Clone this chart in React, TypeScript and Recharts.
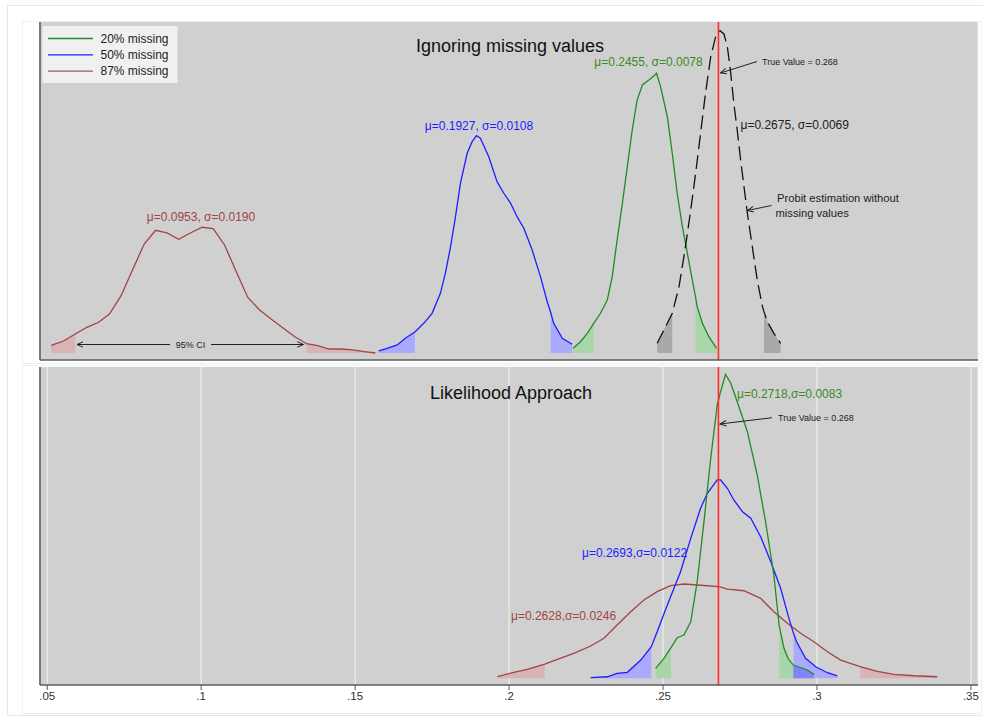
import React from 'react';
import { ComposedChart, Line, Area, XAxis, YAxis, CartesianGrid, ReferenceLine } from 'recharts';

type Pt = [number, number];
type Range = [number, number];

const xTicks = [0.05, 0.1, 0.15, 0.2, 0.25, 0.3, 0.35];
const xTickLabels = ['.05', '.1', '.15', '.2', '.25', '.3', '.35'];
const xDomain: Range = [0.04766, 0.3523];
const trueValue = 0.268;

// Ignoring missing values (kernel densities)
const topRed: Pt[] = [
  [0.0513, 1.38], [0.0553, 2.14], [0.0591, 3.39], [0.0629, 4.59], [0.0667, 5.48], [0.0702, 6.96],
  [0.074, 10.23], [0.0777, 14.82], [0.0815, 19.46], [0.0852, 21.91], [0.0889, 21.43], [0.0927, 20.3],
  [0.0965, 21.43], [0.1003, 22.45], [0.1039, 22.2], [0.1076, 19.29], [0.1114, 14.52], [0.1152, 9.88],
  [0.119, 7.68], [0.1228, 6.02], [0.1266, 4.46], [0.1304, 2.91], [0.1342, 1.66], [0.1378, 1.3],
  [0.1416, 0.71], [0.1454, 0.71], [0.1492, 0.54], [0.153, 0.23], [0.1566, 0.0],
];
const topBlue: Pt[] = [
  [0.1577, 0.36], [0.1604, 0.84], [0.1637, 1.43], [0.1663, 2.63], [0.1694, 3.75], [0.1723, 5.3],
  [0.175, 7.09], [0.1777, 10.66], [0.1793, 14.23], [0.181, 18.98], [0.1826, 24.34], [0.1842, 30.3],
  [0.1864, 35.66], [0.188, 37.73], [0.1894, 38.8], [0.1907, 38.34], [0.1934, 35.05], [0.1961, 30.59],
  [0.1983, 28.52], [0.2005, 26.73], [0.2026, 24.34], [0.2048, 22.27], [0.2075, 18.39], [0.2102, 13.63],
  [0.2124, 9.16], [0.2135, 7.27], [0.2145, 5.3], [0.2173, 2.63], [0.2205, 1.55],
];
const topGreen: Pt[] = [
  [0.2208, 0.84], [0.2232, 2.02], [0.2254, 3.52], [0.2275, 5.3], [0.2297, 7.09], [0.2319, 9.46],
  [0.2335, 13.63], [0.2351, 20.18], [0.2368, 26.73], [0.2384, 33.27], [0.24, 39.82], [0.2416, 45.18],
  [0.2433, 47.86], [0.2454, 48.75], [0.247, 49.46], [0.2479, 49.95], [0.2492, 47.55], [0.2514, 42.2],
  [0.253, 35.66], [0.2546, 28.52], [0.2563, 22.55], [0.2579, 17.8], [0.2595, 13.04], [0.2606, 9.88],
  [0.2611, 8.27], [0.2628, 5.3], [0.2649, 2.91], [0.2674, 0.84],
];
const topBlack: Pt[] = [
  [0.2481, 1.73], [0.2503, 4.11], [0.253, 7.09], [0.2552, 11.84], [0.2573, 18.98], [0.259, 25.54],
  [0.2606, 32.09], [0.2622, 39.23], [0.2638, 46.38], [0.2655, 52.91], [0.2671, 56.48], [0.2685, 57.55],
  [0.2698, 56.96], [0.2709, 54.7], [0.272, 49.95], [0.273, 44.59], [0.2741, 39.82], [0.2752, 34.46],
  [0.2763, 29.7], [0.2774, 24.95], [0.279, 18.98], [0.2806, 13.04], [0.2823, 8.27], [0.2828, 7.38],
  [0.2839, 5.59], [0.286, 3.52], [0.2882, 1.73],
];

// Likelihood approach
const botRed: Pt[] = [
  [0.1962, 0.25], [0.2015, 0.95], [0.2059, 1.43], [0.2116, 2.27], [0.2157, 3.02], [0.221, 3.97],
  [0.2265, 5.13], [0.2308, 6.35], [0.2351, 8.46], [0.2395, 10.57], [0.2438, 12.43], [0.2481, 13.75],
  [0.2525, 14.7], [0.2568, 14.97], [0.2611, 14.81], [0.2682, 14.54], [0.2709, 14.17], [0.2763, 13.9],
  [0.2817, 12.7], [0.286, 10.57], [0.2904, 8.73], [0.2947, 7.14], [0.299, 5.81], [0.3034, 4.22],
  [0.3077, 2.9], [0.314, 1.84], [0.3196, 1.11], [0.325, 0.63], [0.3315, 0.41], [0.3391, 0.25],
];
const botBlue: Pt[] = [
  [0.2265, 0.1], [0.2319, 0.25], [0.2351, 0.79], [0.2384, 0.95], [0.2427, 2.86], [0.2462, 5.02],
  [0.2481, 7.4], [0.2514, 11.63], [0.2557, 16.92], [0.259, 22.22], [0.2622, 26.98], [0.2644, 29.37],
  [0.2676, 31.48], [0.2687, 31.48], [0.2709, 30.16], [0.273, 28.3], [0.2758, 26.44], [0.2785, 25.4],
  [0.2817, 22.48], [0.285, 18.51], [0.2882, 14.29], [0.2909, 9.52], [0.2924, 7.1], [0.2934, 5.81],
  [0.2963, 3.17], [0.2996, 1.84], [0.3034, 0.89], [0.3066, 0.37],
];
const botGreen: Pt[] = [
  [0.2476, 1.59], [0.2503, 3.17], [0.2526, 4.86], [0.2546, 6.44], [0.2568, 6.87], [0.259, 8.98],
  [0.2611, 15.33], [0.2633, 24.86], [0.2655, 34.92], [0.2676, 43.38], [0.2687, 45.49], [0.2703, 48.25],
  [0.272, 46.83], [0.2741, 43.9], [0.2774, 39.14], [0.2806, 32.27], [0.2833, 24.86], [0.286, 16.4],
  [0.2877, 8.46], [0.2893, 4.76], [0.2906, 3.17], [0.2923, 2.11], [0.2947, 1.68], [0.2969, 1.32],
  [0.299, 0.63],
];

// 95% interval tails (shaded)
const topRedTails: Range[] = [[0.0513, 0.0591], [0.1342, 0.1566]];
const topBlueTails: Range[] = [[0.1577, 0.1694], [0.2135, 0.2205]];
const topGreenTails: Range[] = [[0.2208, 0.2275], [0.2606, 0.2674]];
const topBlackTails: Range[] = [[0.2481, 0.253], [0.2828, 0.2882]];
const botRedTails: Range[] = [[0.1962, 0.2116], [0.314, 0.3391]];
const botBlueTails: Range[] = [[0.2265, 0.2462], [0.2924, 0.3066]];
const botGreenTails: Range[] = [[0.2476, 0.2526], [0.2877, 0.2923], [0.2923, 0.299]];

const FONT = '"Liberation Sans", Arial, Helvetica, sans-serif';
const RED = '#a04444';
const BLUE = '#1e1eff';
const GREEN = '#228b22';
const SHADE_RED = '#d8b4b6';
const SHADE_BLUE = '#aaaaff';
const SHADE_GREEN = '#a8d6a8';
const SHADE_GRAY = '#a9a9a9';
const SHADE_DARKBLUE = '#8282fb';

interface Series {
  key: string;
  pts: Pt[];
  tails: Range[];
  color: string;
  tailColors: string[];
  dash?: string;
}

const buildRows = (series: Series[]) => {
  const rows: Record<string, number>[] = [];
  series.forEach((s) => {
    s.pts.forEach(([x, y]) => {
      const row: Record<string, number> = { x, [s.key]: y };
      s.tails.forEach(([lo, hi], i) => {
        if (x >= lo - 1e-9 && x <= hi + 1e-9) row[`${s.key}_t${i}`] = y;
      });
      rows.push(row);
    });
  });
  return rows;
};

const topSeries: Series[] = [
  { key: 'red', pts: topRed, tails: topRedTails, color: RED, tailColors: [SHADE_RED, SHADE_RED] },
  { key: 'blue', pts: topBlue, tails: topBlueTails, color: BLUE, tailColors: [SHADE_BLUE, SHADE_BLUE] },
  { key: 'green', pts: topGreen, tails: topGreenTails, color: GREEN, tailColors: [SHADE_GREEN, SHADE_GREEN] },
  { key: 'black', pts: topBlack, tails: topBlackTails, color: '#111', tailColors: [SHADE_GRAY, SHADE_GRAY], dash: '14 6' },
];
const botSeries: Series[] = [
  { key: 'red', pts: botRed, tails: botRedTails, color: RED, tailColors: [SHADE_RED, SHADE_RED] },
  { key: 'blue', pts: botBlue, tails: botBlueTails, color: BLUE, tailColors: [SHADE_BLUE, SHADE_BLUE] },
  { key: 'green', pts: botGreen, tails: botGreenTails, color: GREEN, tailColors: [SHADE_GREEN, SHADE_GREEN, SHADE_DARKBLUE] },
];

const Panel: React.FC<{
  series: Series[];
  height: number;
  yDomain: Range;
  margin: { top: number; right: number; bottom: number; left: number };
  showTicks: boolean;
}> = ({ series, height, yDomain, margin, showTicks }) => {
  const rows = buildRows(series);
  return (
    <ComposedChart width={983} height={height} data={rows} margin={margin}>
      <CartesianGrid horizontal={false} fill="#d0d0d0" stroke="#e8eded" strokeWidth={1.3} />
      <XAxis
        type="number"
        dataKey="x"
        domain={xDomain}
        allowDataOverflow
        ticks={xTicks}
        height={showTicks ? 30 : 1}
        tick={showTicks ? { fontSize: 11.5, fill: '#333', fontFamily: FONT } : false}
        tickLine={showTicks ? { stroke: '#555' } : false}
        tickSize={5}
        tickFormatter={(v: number) => xTickLabels[xTicks.indexOf(v)] ?? ''}
        axisLine={{ stroke: '#5c5c5c', strokeWidth: 1.6 }}
      />
      <YAxis
        type="number"
        domain={yDomain}
        allowDataOverflow
        width={2}
        tick={false}
        tickLine={false}
        axisLine={{ stroke: '#5c5c5c', strokeWidth: 1.6 }}
      />
      {series.flatMap((s) =>
        s.tails.map((_, i) => (
          <Area
            key={`${s.key}_t${i}`}
            dataKey={`${s.key}_t${i}`}
            type="linear"
            stroke="none"
            fill={s.tailColors[i]}
            fillOpacity={1}
            baseValue={0}
            connectNulls
            dot={false}
            activeDot={false}
            isAnimationActive={false}
          />
        ))
      )}
      {series.map((s) => (
        <Line
          key={s.key}
          dataKey={s.key}
          type="linear"
          stroke={s.color}
          strokeWidth={1.3}
          strokeDasharray={s.dash}
          connectNulls
          dot={false}
          activeDot={false}
          isAnimationActive={false}
        />
      ))}
      <ReferenceLine x={trueValue} stroke="#ff2b2b" strokeWidth={1.6} />
    </ComposedChart>
  );
};

const legendItems = [
  { label: '20% missing', color: GREEN },
  { label: '50% missing', color: BLUE },
  { label: '87% missing', color: '#a65a5a' },
];

const Overlay: React.FC = () => (
  <svg width={983} height={723} style={{ position: 'absolute', left: 0, top: 0, pointerEvents: 'none' }}>
    <defs>
      <marker id="ah" viewBox="0 0 10 10" refX="9" refY="5" markerWidth="7" markerHeight="7" orient="auto-start-reverse">
        <path d="M0,1 L9,5 L0,9" fill="none" stroke="#222" strokeWidth={1.4} />
      </marker>
    </defs>
    <g fontFamily={FONT} dominantBaseline="central">
      {/* legend */}
      <rect x={42.5} y={26} width={135} height={57} fill="#f0f0f0" />
      {legendItems.map((it, i) => (
        <g key={it.label}>
          <line x1={48} x2={93} y1={38.5 + i * 16.3} y2={38.5 + i * 16.3} stroke={it.color} strokeWidth={1.3} />
          <text x={100.5} y={38.5 + i * 16.3} fontSize={12} fill="#222">{it.label}</text>
        </g>
      ))}

      {/* top panel */}
      <text x={510} y={45.5} fontSize={18} textAnchor="middle" fill="#111">Ignoring missing values</text>
      <text x={201} y={216.5} fontSize={12} textAnchor="middle" fill={RED}>μ=0.0953, σ=0.0190</text>
      <text x={479} y={126} fontSize={12} textAnchor="middle" fill={BLUE}>μ=0.1927, σ=0.0108</text>
      <text x={648.5} y={62} fontSize={12} textAnchor="middle" fill="#3a8a26">μ=0.2455, σ=0.0078</text>
      <text x={740.5} y={125} fontSize={12} fill="#222">μ=0.2675, σ=0.0069</text>
      <text x={762} y={62} fontSize={9} fill="#222">True Value = 0.268</text>
      <line x1={757} y1={61.5} x2={720.5} y2={73} stroke="#222" strokeWidth={1} markerEnd="url(#ah)" />
      <text x={777} y={198} fontSize={11.2} fill="#222">Probit estimation without</text>
      <text x={775.5} y={212.5} fontSize={11.2} fill="#222">missing values</text>
      <line x1={771.5} y1={205.5} x2={747.5} y2={210.5} stroke="#222" strokeWidth={1} markerEnd="url(#ah)" />
      <line x1={170} y1={344.5} x2={77} y2={344.5} stroke="#222" strokeWidth={1} markerEnd="url(#ah)" />
      <line x1={211} y1={344.5} x2={303.5} y2={344.5} stroke="#222" strokeWidth={1} markerEnd="url(#ah)" />
      <text x={190.5} y={344.5} fontSize={9} textAnchor="middle" fill="#222">95% CI</text>

      {/* bottom panel */}
      <text x={511} y={393} fontSize={18} textAnchor="middle" fill="#111">Likelihood Approach</text>
      <text x={737} y={393.5} fontSize={12} fill="#3a8a26">μ=0.2718,σ=0.0083</text>
      <text x={778} y={417.5} fontSize={9} fill="#222">True Value = 0.268</text>
      <line x1={772} y1={417.7} x2={720} y2={424} stroke="#222" strokeWidth={1} markerEnd="url(#ah)" />
      <text x={582} y={552.5} fontSize={12} fill={BLUE}>μ=0.2693,σ=0.0122</text>
      <text x={511} y={616} fontSize={12} fill={RED}>μ=0.2628,σ=0.0246</text>
    </g>
  </svg>
);

export default function App() {
  return (
    <div style={{ position: 'absolute', left: 0, top: 0, width: 983, height: 723, background: '#fff', overflow: 'hidden' }}>
      <div style={{ position: 'absolute', left: 7, top: 5, width: 975, height: 709, border: '1px solid #e2e9e9' }} />
      <div style={{ position: 'absolute', left: 22, top: 21, width: 958, height: 341, border: '1px solid #edf1f1' }} />
      <div style={{ position: 'absolute', left: 22, top: 365, width: 958, height: 347, border: '1px solid #edf1f1' }} />
      <div style={{ position: 'absolute', left: 0, top: 0 }}>
        <Panel series={topSeries} height={361} yDomain={[-1.25, 59.1]} margin={{ top: 22, right: 5, bottom: 0, left: 38 }} showTicks={false} />
      </div>
      <div style={{ position: 'absolute', left: 0, top: 360 }}>
        <Panel series={botSeries} height={363} yDomain={[-1.06, 49.41]} margin={{ top: 7, right: 5, bottom: 8, left: 38 }} showTicks />
      </div>
      <Overlay />
    </div>
  );
}
